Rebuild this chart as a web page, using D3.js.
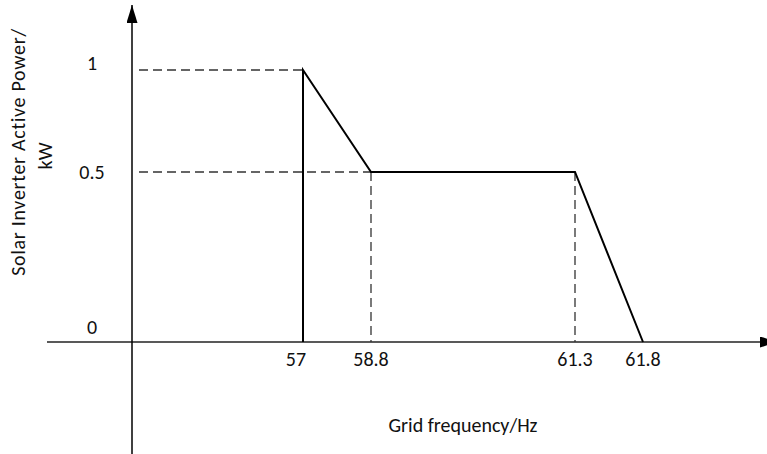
<!DOCTYPE html>
<html>
<head>
<meta charset="utf-8">
<script src="https://cdn.jsdelivr.net/npm/d3@7"></script>
<style>
  body { margin: 0; background: #fff; }
  text { font-family: Carlito, Lato, "Open Sans", sans-serif; fill: #111; }
</style>
</head>
<body>
<svg id="svg1" width="767" height="454"></svg>
<script>
var freqTicks = [57, 58.8, 61.3, 61.8];
var powerTicks = [0, 0.5, 1];
var curveFreq = [57, 57, 58.8, 61.3, 61.8];
var curvePower = [0, 1, 0.5, 0.5, 0];

// schematic, not to scale -> piecewise linear scales
var x = d3.scaleLinear().domain(freqTicks).range([303, 371, 575, 643]);
var y = d3.scaleLinear().domain(powerTicks).range([342, 172, 70]);
var x0 = 132;

var svg = d3.select('#svg1');

svg.append("defs").append("marker")
    .attr("id", "arrow")
    .attr("viewBox", "0 0 18 11")
    .attr("refX", 18).attr("refY", 5.5)
    .attr("markerWidth", 18).attr("markerHeight", 11)
    .attr("markerUnits", "userSpaceOnUse")
    .attr("orient", "auto")
    .append("path")
    .attr("d", "M0,0L18,5.5L0,11z")
    .attr("fill", "#000");

// axes
svg.append("line")
    .attr("x1", 47).attr("y1", y(0)).attr("x2", 778).attr("y2", y(0))
    .attr("stroke", "#222").attr("stroke-width", 1.5)
    .attr("marker-end", "url(#arrow)");
svg.append("line")
    .attr("x1", x0).attr("y1", 454).attr("x2", x0).attr("y2", 5)
    .attr("stroke", "#000").attr("stroke-width", 1.5)
    .attr("marker-end", "url(#arrow)");

// dashed guides
var dash = "9,5";
svg.append("line")
    .attr("x1", x0 + 7).attr("y1", y(1)).attr("x2", x(57)).attr("y2", y(1))
    .attr("stroke", "#333").attr("stroke-width", 1.3).attr("stroke-dasharray", dash);
svg.append("line")
    .attr("x1", x0 + 7).attr("y1", y(0.5)).attr("x2", x(58.8)).attr("y2", y(0.5))
    .attr("stroke", "#333").attr("stroke-width", 1.3).attr("stroke-dasharray", dash);
[58.8, 61.3].forEach(function(f) {
    svg.append("line")
        .attr("x1", x(f)).attr("y1", y(0.5)).attr("x2", x(f)).attr("y2", y(0))
        .attr("stroke", "#333").attr("stroke-width", 1.3).attr("stroke-dasharray", dash);
});

// curve
var line = d3.line()
    .x(function(d, i) { return x(curveFreq[i]); })
    .y(function(d) { return y(d); });
svg.append("path")
    .attr("d", line(curvePower))
    .attr("fill", "none").attr("stroke", "#000").attr("stroke-width", 2);

// tick labels
svg.selectAll(".xl")
    .data(freqTicks)
    .enter().append("text")
    .attr("class", "xl")
    .attr("x", function(d) { return d == 57 ? x(d) - 7 : x(d); })
    .attr("y", 366)
    .attr("text-anchor", "middle")
    .style("font-size", "20px")
    .text(function(d) { return d; });

svg.selectAll(".yl")
    .data(powerTicks)
    .enter().append("text")
    .attr("class", "yl")
    .attr("x", 92)
    .attr("y", function(d) { return d == 0 ? 334 : d == 1 ? 70 : y(d) + 7; })
    .attr("text-anchor", "middle")
    .style("font-size", "20px")
    .text(function(d) { return d; });

// titles
svg.append("text")
    .attr("transform", "translate(25,152) rotate(-90)")
    .attr("text-anchor", "middle")
    .style("font-size", "20px")
    .style("letter-spacing", "0.7px")
    .text("Solar Inverter Active Power/");
svg.append("text")
    .attr("transform", "translate(52,156) rotate(-90)")
    .attr("text-anchor", "middle")
    .style("font-size", "20px")
    .text("kW");
svg.append("text")
    .attr("x", 463).attr("y", 432)
    .attr("text-anchor", "middle")
    .style("font-size", "20px")
    .text("Grid frequency/Hz");
</script>
</body>
</html>
